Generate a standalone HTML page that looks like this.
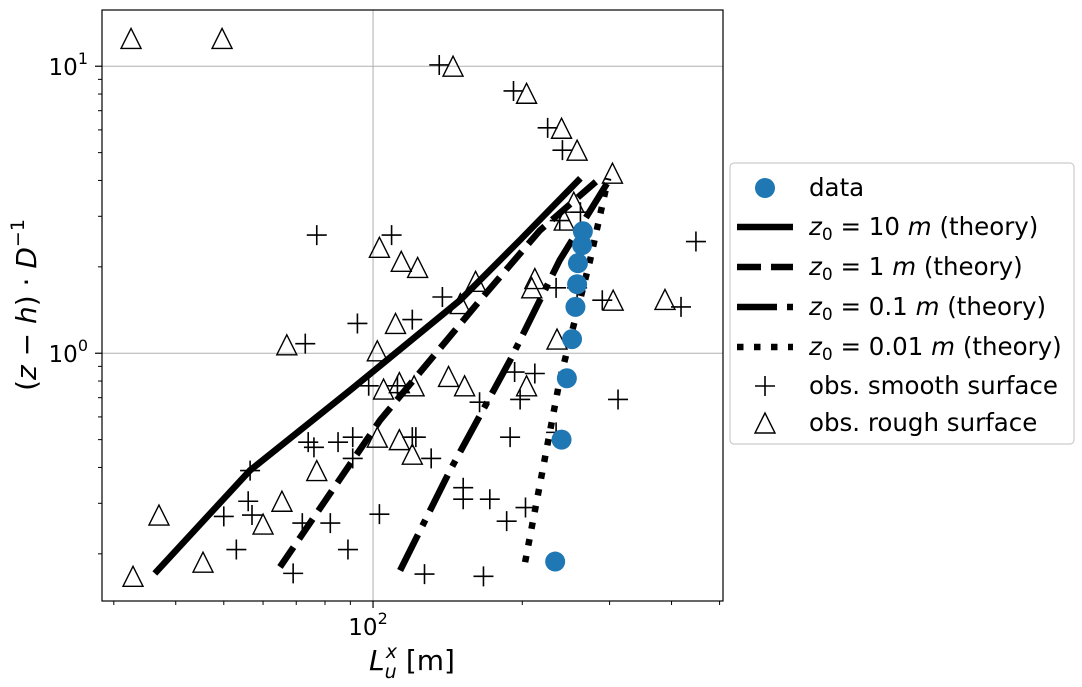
<!DOCTYPE html>
<html><head><meta charset="utf-8"><style>
html,body{margin:0;padding:0;background:#fff;}
svg{display:block;font-family:"DejaVu Sans","Liberation Sans",sans-serif;}
</style></head><body>
<svg id="chart" width="1082" height="687" viewBox="0 0 1082 687" xmlns="http://www.w3.org/2000/svg">
<rect width="1082" height="687" fill="#fff"/>
<defs><clipPath id="plotclip"><rect x="102" y="10" width="621" height="591"/></clipPath></defs>
<g id="grid"></g>
<g id="marks" clip-path="url(#plotclip)"></g>
<rect x="102" y="10" width="621" height="591" fill="none" stroke="#000" stroke-width="1.2"/>
<g id="ticks"></g>
<text x="412" y="670" font-size="28" text-anchor="middle"><tspan font-style="italic">L</tspan><tspan font-style="italic" font-size="19" dy="8">u</tspan><tspan font-style="italic" font-size="19" dx="-11" dy="-20">x</tspan><tspan dy="12"> [m]</tspan></text>
<text transform="translate(36,305) rotate(-90)" font-size="28" text-anchor="middle">(<tspan font-style="italic">z</tspan> − <tspan font-style="italic">h</tspan>) · <tspan font-style="italic">D</tspan><tspan font-size="19" dy="-12">−1</tspan></text>
<g id="legend">
<rect x="730" y="163" width="344" height="281" rx="4" fill="#fff" stroke="#ccc" stroke-width="1.2"/>
</g>
</svg>
<script>
// axis domains
const xMinLog = Math.log10(28.4), xMaxLog = Math.log10(508);
const yMinLog = Math.log10(0.137), yMaxLog = Math.log10(15.7);
const X0 = 102, X1 = 723, Y0 = 601, Y1 = 10;
function sx(v){ return X0 + (Math.log10(v) - xMinLog) / (xMaxLog - xMinLog) * (X1 - X0); }
function sy(v){ return Y0 - (Math.log10(v) - yMinLog) / (yMaxLog - yMinLog) * (Y0 - Y1); }

// data
const dataX = [233, 240, 246, 252, 256, 258, 259, 264, 265];
const dataY = [0.188, 0.50, 0.818, 1.12, 1.45, 1.74, 2.06, 2.38, 2.66];

const theory10X = [36.3, 56.5, 89.9, 149.8, 198, 262];
const theory10Y = [0.171, 0.391, 0.743, 1.53, 2.48, 4.07];
const theory1X = [64.9, 103.3, 164.4, 217, 284];
const theory1Y = [0.180, 0.584, 1.53, 2.68, 4.01];
const theory01X = [113.4, 143, 189, 238, 300.8];
const theory01Y = [0.175, 0.391, 0.946, 2.11, 4.07];
const theory001X = [202.6, 238, 274, 298];
const theory001Y = [0.187, 0.805, 2.11, 4.07];

const smoothX = [136,192,225,241,238,262,448,138,234,258,290,418,77,109,93,73,120,98,112,120,91,85,74,76,56.5,91,56,50,57,72,82,103,53,89,69,193,212,164,198,312,122,189,234,131,152,152,172,203,186,127,167];
const smoothY = [10.1,8.2,6.1,5.1,2.9,3.1,2.45,1.57,1.69,1.69,1.53,1.45,2.58,2.58,1.27,1.08,1.31,0.77,0.77,0.51,0.51,0.49,0.49,0.47,0.39,0.43,0.305,0.27,0.273,0.256,0.256,0.275,0.207,0.207,0.171,0.86,0.85,0.675,0.69,0.69,0.51,0.51,0.53,0.43,0.34,0.31,0.31,0.29,0.26,0.17,0.167];

const roughX = [32.5,49.6,103,114,123,145,204,240,258,304,254,243,161,212,209,150,305,388,67,111,102,105,113,121,102,113,120,77,65.5,60,37,45.4,32.8,235,142,153,204];
const roughY = [12.5,12.5,2.34,2.09,1.99,10,8.05,6.08,5.1,4.24,3.36,2.91,1.78,1.82,1.69,1.49,1.53,1.54,1.07,1.27,1.02,0.75,0.79,0.77,0.51,0.50,0.445,0.39,0.305,0.254,0.273,0.187,0.167,1.12,0.83,0.77,0.77];

const xMajor = [100];
const xMajorLabels = ["2"];
const yMajor = [1, 10];
const yMajorLabels = ["0", "1"];
const xMinor = [30,40,50,60,70,80,90,200,300,400,500];
const yMinor = [0.2,0.3,0.4,0.5,0.6,0.7,0.8,0.9,2,3,4,5,6,7,8,9];

const NS = "http://www.w3.org/2000/svg";
function mk(tag, attrs, parent){
  const e = document.createElementNS(NS, tag);
  for (const k in attrs) e.setAttribute(k, attrs[k]);
  parent.appendChild(e);
  return e;
}
const grid = document.getElementById('grid');
const ticks = document.getElementById('ticks');
const marks = document.getElementById('marks');
const legend = document.getElementById('legend');

xMajor.forEach((v, i) => {
  const x = sx(v);
  const g = mk('line', {x1:x, x2:x, y1:Y1, y2:Y0, stroke:'#b0b0b0', 'stroke-width':1}, grid);
  
  
  const t = mk('line', {x1:x, x2:x, y1:Y0, y2:Y0+7, stroke:'#000', 'stroke-width':1.2}, ticks);
  
  
  const tx = mk('text', {x:x-5, y:Y0+34, 'font-size':23, 'text-anchor':'middle'}, ticks);
  
  
  tx.innerHTML = '10<tspan font-size="16" dy="-11">' + xMajorLabels[i] + '</tspan>';
});
yMajor.forEach((v, i) => {
  const y = sy(v);
  const g = mk('line', {x1:X0, x2:X1, y1:y, y2:y, stroke:'#b0b0b0', 'stroke-width':1}, grid);
  
  
  const t = mk('line', {x1:X0-7, x2:X0, y1:y, y2:y, stroke:'#000', 'stroke-width':1.2}, ticks);
  
  
  const tx = mk('text', {x:X0-14, y:y+9, 'font-size':23, 'text-anchor':'end'}, ticks);
  
  
  tx.innerHTML = '10<tspan font-size="16" dy="-11">' + yMajorLabels[i] + '</tspan>';
});
xMinor.forEach(v => {
  const x = sx(v);
  const t = mk('line', {x1:x, x2:x, y1:Y0, y2:Y0+4, stroke:'#000', 'stroke-width':1}, ticks);
  
  
});
yMinor.forEach(v => {
  const y = sy(v);
  const t = mk('line', {x1:X0-4, x2:X0, y1:y, y2:y, stroke:'#000', 'stroke-width':1}, ticks);
  
  
});

const styles = [
  {xs: theory10X, ys: theory10Y, dash: 'none', name: 'theory-z0-10'},
  {xs: theory1X, ys: theory1Y, dash: '24 10', name: 'theory-z0-1'},
  {xs: theory01X, ys: theory01Y, dash: '40 10 6.5 10', name: 'theory-z0-0.1'},
  {xs: theory001X, ys: theory001Y, dash: '6.5 10.5', name: 'theory-z0-0.01'}
];
styles.forEach(s => {
  const pts = s.xs.map((v, i) => sx(v).toFixed(1) + ',' + sy(s.ys[i]).toFixed(1)).join(' ');
  const p = mk('polyline', {points: pts, fill:'none', stroke:'#000', 'stroke-width':6.5, 'stroke-dasharray': s.dash, 'stroke-linecap':'butt'}, marks);
  
  
});

function plus(cx, cy, parent, h){
  return mk('path', {d:`M${cx-h},${cy}H${cx+h}M${cx},${cy-h}V${cy+h}`, stroke:'#000', 'stroke-width':1.6, fill:'none'}, parent);
}
function tri(cx, cy, parent, h){
  return mk('path', {d:`M${cx},${cy-h}L${cx+h},${cy+h}L${cx-h},${cy+h}Z`, stroke:'#000', 'stroke-width':1.4, fill:'none'}, parent);
}
smoothX.forEach((v, i) => {
  const p = plus(sx(v), sy(smoothY[i]), marks, 10);
  
  
});
roughX.forEach((v, i) => {
  const p = tri(sx(v), sy(roughY[i]), marks, 10);
  
  
});
dataX.forEach((v, i) => {
  const c = mk('circle', {cx:sx(v), cy:sy(dataY[i]), r:10, fill:'#1f77b4'}, marks);
  
  
});

// legend
const legY = [188, 227, 267, 307, 347, 386, 423];
const legLabels = [
  'data',
  '<tspan font-style="italic">z</tspan><tspan font-size="17" dy="5">0</tspan><tspan dy="-5"> = 10 </tspan><tspan font-style="italic">m</tspan> (theory)',
  '<tspan font-style="italic">z</tspan><tspan font-size="17" dy="5">0</tspan><tspan dy="-5"> = 1 </tspan><tspan font-style="italic">m</tspan> (theory)',
  '<tspan font-style="italic">z</tspan><tspan font-size="17" dy="5">0</tspan><tspan dy="-5"> = 0.1 </tspan><tspan font-style="italic">m</tspan> (theory)',
  '<tspan font-style="italic">z</tspan><tspan font-size="17" dy="5">0</tspan><tspan dy="-5"> = 0.01 </tspan><tspan font-style="italic">m</tspan> (theory)',
  'obs. smooth surface',
  'obs. rough surface'
];
const legDash = [null, 'none', '24 10', '40 10 6.5 10', '6.5 10.5'];
legY.forEach((y, i) => {
  const g = mk('g', {}, legend);
  
  
  if (i === 0) mk('circle', {cx:765, cy:y, r:10, fill:'#1f77b4'}, g);
  else if (i <= 4) mk('line', {x1:737, x2:793, y1:y, y2:y, stroke:'#000', 'stroke-width':6.5, 'stroke-dasharray':legDash[i]}, g);
  else if (i === 5) plus(765, y, g, 10);
  else tri(765, y, g, 10);
  const t = mk('text', {x:809, y:y+8, 'font-size':24.5}, g);
  t.innerHTML = legLabels[i];
});
</script>
</body></html>
